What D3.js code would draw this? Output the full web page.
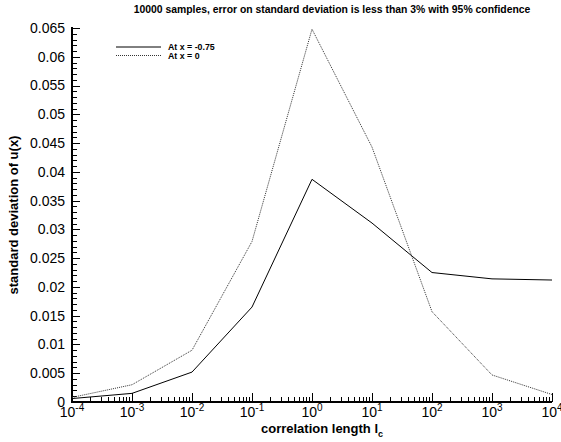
<!DOCTYPE html>
<html><head><meta charset="utf-8">
<script src="https://cdn.jsdelivr.net/npm/d3@7"></script>
<style>body{margin:0;background:#fff}svg{display:block}text{font-family:"Liberation Sans",Arial,sans-serif}</style>
</head><body>
<script>
const corrLength = [1e-4,1e-3,1e-2,1e-1,1e0,1e1,1e2,1e3,1e4];
const stdAtMinus075 = [0.0006,0.0015,0.0052,0.0165,0.0387,0.0311,0.0225,0.0214,0.0212];
const stdAtZero = [0.0008,0.0030,0.0090,0.0279,0.0648,0.0443,0.0157,0.0047,0.0013];
const seriesNames = ["At x = -0.75","At x = 0"];
const yTicks = [0,0.005,0.01,0.015,0.02,0.025,0.03,0.035,0.04,0.045,0.05,0.055,0.06,0.065];
const xExponents = [-4,-3,-2,-1,0,1,2,3,4];
const titleText = "10000 samples, error on standard deviation is less than 3% with 95% confidence";

const W=561,H=442;
const svg=d3.select("body").append("svg").attr("width",W).attr("height",H);
const x=d3.scaleLog().domain([1e-4,1e4]).range([72,552]);
const y=d3.scaleLinear().domain([0,0.065]).range([402,28]);

// minor y ticks
const yMinor=d3.range(0,66).map(i=>i/1000).filter(v=>v<=0.065+1e-9);
svg.append("g").attr("shape-rendering","crispEdges").selectAll("line").data(yMinor).join("line")
  .attr("x1",72).attr("x2",d=>Math.abs(Math.round(d*200)-d*200)<1e-6?80:77)
  .attr("y1",d=>Math.round(y(d))+0.5).attr("y2",d=>Math.round(y(d))+0.5).attr("stroke","#000").attr("stroke-width",1);
// y tick labels
svg.append("g").selectAll("text").data(yTicks).join("text")
  .attr("x",65).attr("y",d=>y(d)).attr("dy","0.35em").attr("text-anchor","end")
  .attr("font-size",14).text(d=>d===0?"0":String(+d.toFixed(3)));

// x minor ticks
const xMinor=[];
for(let e=-4;e<4;e++){for(let m=1;m<10;m++){xMinor.push(m*Math.pow(10,e));}}
xMinor.push(1e4);
svg.append("g").attr("shape-rendering","crispEdges").selectAll("line").data(xMinor).join("line")
  .attr("x1",d=>Math.round(x(d))+0.5).attr("x2",d=>Math.round(x(d))+0.5).attr("y1",402)
  .attr("y2",d=>{const l=Math.log10(d);return Math.abs(l-Math.round(l))<1e-9?393:397;})
  .attr("stroke","#000").attr("stroke-width",1);
// x labels
const xl=svg.append("g").selectAll("text").data(xExponents).join("text")
  .attr("x",d=>x(Math.pow(10,d))).attr("y",417).attr("text-anchor","middle").attr("font-size",14);
xl.append("tspan").text("10");
xl.append("tspan").attr("font-size",10).attr("dy",-6).text(d=>d);

// axes lines
svg.append("line").attr("x1",72).attr("x2",72).attr("y1",27).attr("y2",403).attr("stroke","#000").attr("stroke-width",2);
svg.append("line").attr("x1",71).attr("x2",552).attr("y1",402).attr("y2",402).attr("stroke","#000").attr("stroke-width",2);

// lines
const line=d3.line().x(d=>x(d[0])).y(d=>y(d[1]));
svg.append("path").datum(corrLength.map((c,i)=>[c,stdAtMinus075[i]])).attr("d",line)
  .attr("fill","none").attr("stroke","#000").attr("stroke-width",1);
svg.append("path").datum(corrLength.map((c,i)=>[c,stdAtZero[i]])).attr("d",line)
  .attr("fill","none").attr("stroke","#333").attr("stroke-width",1).attr("stroke-dasharray","1,1");

// legend
const lg=svg.append("g");
lg.append("line").attr("x1",116).attr("x2",161).attr("y1",47).attr("y2",47).attr("stroke","#000");
lg.append("line").attr("x1",116).attr("x2",161).attr("y1",55.5).attr("y2",55.5).attr("stroke","#333").attr("stroke-dasharray","1,1");
lg.append("text").attr("x",168).attr("y",47).attr("dy","0.35em").attr("font-size",8.8).attr("font-weight","bold").text(seriesNames[0]);
lg.append("text").attr("x",168).attr("y",55.5).attr("dy","0.35em").attr("font-size",8.8).attr("font-weight","bold").text(seriesNames[1]);

// title
svg.append("text").attr("x",332).attr("y",13).attr("text-anchor","middle").attr("font-size",10.4).attr("font-weight","bold").text(titleText);
// axis titles
svg.append("text").attr("transform","translate(18,215) rotate(-90)").attr("text-anchor","middle")
  .attr("font-size",13).attr("font-weight","bold").text("standard deviation of u(x)");
const xt=svg.append("text").attr("x",322).attr("y",433).attr("text-anchor","middle").attr("font-size",13).attr("font-weight","bold");
xt.append("tspan").text("correlation length l");
xt.append("tspan").attr("font-size",9).attr("dy",4).text("c");
</script>
</body></html>
